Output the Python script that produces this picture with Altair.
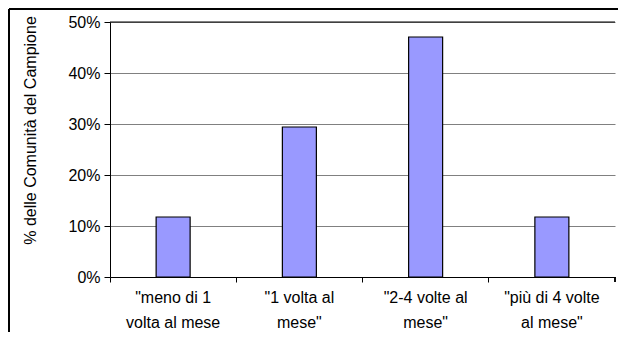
import altair as alt
import pandas as pd

categories = ['"meno di 1|volta al mese', '"1 volta al|mese"', '"2-4 volte al|mese"', '"più di 4 volte|al mese"']
shares = [0.1176, 0.2941, 0.4706, 0.1176]
y_ticks = [0, 0.1, 0.2, 0.3, 0.4, 0.5]
y_title = "% delle Comunità del Campione"

df = pd.DataFrame({"cat": categories, "share": shares})

W, H = 505, 255
FONT = "Liberation Sans"

bars = alt.Chart(df).mark_bar(width=34, color="#9999FF", stroke="black", strokeWidth=1.2).encode(
    x=alt.X("cat:N", sort=categories,
            scale=alt.Scale(paddingInner=0, paddingOuter=0),
            axis=alt.Axis(title=None, labelExpr="split(datum.label, '|')", bandPosition=0,
                          tickSize=5, labelAngle=0, labelFontSize=16, labelLineHeight=25,
                          labelPadding=7, domainColor="black", tickColor="black",
                          labelColor="black", labelFont=FONT, labelBaseline="top",
                          grid=False)),
    y=alt.Y("share:Q", scale=alt.Scale(domain=[0, 0.5], nice=False),
            axis=alt.Axis(values=y_ticks, format=".0%", title=y_title,
                          titleX=-72, titleY=108, titleAngle=270, titleBaseline="bottom",
                          titleAlign="center", titleFontWeight="normal", titleFontSize=16,
                          titleFont=FONT, titleColor="black",
                          labelFont=FONT, labelFontSize=16, labelColor="black", labelPadding=4,
                          tickSize=6, tickColor="black", domainColor="black",
                          grid=True, gridColor="#808080", gridWidth=1)),
)

top_rule = alt.Chart(pd.DataFrame({"v": [0.5]})).mark_rule(color="black").encode(y="v:Q")

end_tick = alt.Chart(df).mark_rule(color="black").encode(
    x=alt.value(W), y=alt.value(H), y2=alt.value(H + 5))

frame_top = alt.Chart(df).mark_rule(color="black", strokeWidth=1.5).encode(
    x=alt.value(-101), x2=alt.value(W + 3), y=alt.value(-13))
frame_left = alt.Chart(df).mark_rule(color="black", strokeWidth=1.5).encode(
    x=alt.value(-101), y=alt.value(-13), y2=alt.value(H + 55))

chart = alt.layer(bars, top_rule, end_tick, frame_top, frame_left).properties(
    width=W, height=H,
    autosize=alt.AutoSizeParams(type="none"),
    padding={"left": 102, "top": 14, "right": 3, "bottom": 55},
).configure_view(stroke=None)

chart.save("out.html", embed_options={"renderer": "svg", "actions": False})
